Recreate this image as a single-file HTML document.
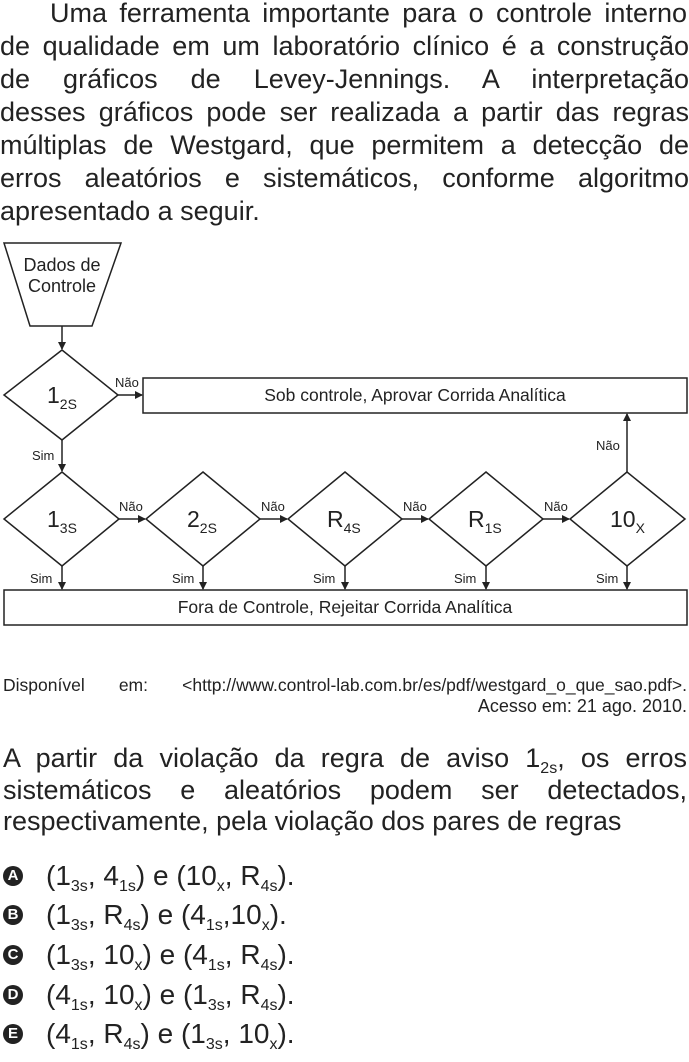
<!DOCTYPE html>
<html><head><meta charset="utf-8"><style>
body{margin:0;width:689px;height:1062px;background:#fff;position:relative;overflow:hidden;font-family:"Liberation Sans",Arial,sans-serif;color:#222}
.ln{position:absolute;left:0;width:689px;font-size:27px;line-height:33px;white-space:nowrap;text-align:justify;text-align-last:justify}
.nj{text-align:left;text-align-last:left}
sub{font-size:16px;vertical-align:-6px;line-height:0}
.opt{position:absolute;left:0;font-size:28px;line-height:30px;white-space:nowrap}
.ic{position:absolute;left:3px;width:20px;height:20px;border-radius:50%;background:#222;color:#fff;font-weight:bold;font-size:15px;line-height:20px;text-align:center}
</style></head><body>
<div class="ln" style="top:-3px;left:50px;width:637px">Uma ferramenta importante para o controle interno</div>
<div class="ln" style="top:30px">de qualidade em um laboratório clínico é a construção</div>
<div class="ln" style="top:63px">de gráficos de Levey-Jennings. A interpretação</div>
<div class="ln" style="top:96px">desses gráficos pode ser realizada a partir das regras</div>
<div class="ln" style="top:129px">múltiplas de Westgard, que permitem a detecção de</div>
<div class="ln" style="top:162px">erros aleatórios e sistemáticos, conforme algoritmo</div>
<div class="ln nj" style="top:195px">apresentado a seguir.</div>

<svg width="689" height="640" style="position:absolute;left:0;top:0" font-family="Liberation Sans,Arial,sans-serif" fill="none" stroke="#222" stroke-width="1.5">
<defs><marker id="a" markerWidth="8" markerHeight="8" refX="7" refY="4" orient="auto" markerUnits="userSpaceOnUse"><path d="M0,0 L8,4 L0,8 z" fill="#222" stroke="none"/></marker></defs>
<polygon points="4,243 121,243 92,326 30,326"/>
<g fill="#222" stroke="none" font-size="18" text-anchor="middle"><text x="62" y="271">Dados de</text><text x="62" y="292">Controle</text></g>
<line x1="62" y1="326" x2="62" y2="349" marker-end="url(#a)"/>
<polygon points="62,350 118,395 62,440 4,395"/>
<rect x="143" y="378" width="544" height="35"/>
<line x1="118" y1="395" x2="142" y2="395" marker-end="url(#a)"/>
<line x1="62" y1="440" x2="62" y2="471" marker-end="url(#a)"/>
<rect x="4" y="590" width="683" height="35"/>
<polygon points="62,472 119,519 62,566 4,519"/>
<polygon points="203,472 260,519 203,566 146,519"/>
<polygon points="345,472 402,519 345,566 288,519"/>
<polygon points="486,472 543,519 486,566 429,519"/>
<polygon points="627,472 685,519 627,566 570,519"/>
<line x1="119" y1="519" x2="145" y2="519" marker-end="url(#a)"/>
<line x1="260" y1="519" x2="287" y2="519" marker-end="url(#a)"/>
<line x1="402" y1="519" x2="428" y2="519" marker-end="url(#a)"/>
<line x1="543" y1="519" x2="569" y2="519" marker-end="url(#a)"/>
<line x1="627" y1="472" x2="627" y2="414" marker-end="url(#a)"/>
<line x1="62" y1="566" x2="62" y2="589" marker-end="url(#a)"/>
<line x1="203" y1="566" x2="203" y2="589" marker-end="url(#a)"/>
<line x1="345" y1="566" x2="345" y2="589" marker-end="url(#a)"/>
<line x1="486" y1="566" x2="486" y2="589" marker-end="url(#a)"/>
<line x1="627" y1="566" x2="627" y2="589" marker-end="url(#a)"/>
<g fill="#222" stroke="none" font-size="17.5" text-anchor="middle">
<text x="415" y="401">Sob controle, Aprovar Corrida Analítica</text>
<text x="345" y="613">Fora de Controle, Rejeitar Corrida Analítica</text>
</g>
<g fill="#222" stroke="none" font-size="13">
<text x="115" y="387">Não</text><text x="32" y="460">Sim</text>
<text x="119" y="511">Não</text><text x="261" y="511">Não</text><text x="403" y="511">Não</text><text x="544" y="511">Não</text>
<text x="596" y="450">Não</text>
<text x="30" y="583">Sim</text><text x="172" y="583">Sim</text><text x="313" y="583">Sim</text><text x="454" y="583">Sim</text><text x="596" y="583">Sim</text>
</g>
<g fill="#222" stroke="none" font-size="23">
<text x="47" y="403">1<tspan font-size="14" dy="6">2S</tspan></text>
<text x="47" y="527">1<tspan font-size="14" dy="6">3S</tspan></text>
<text x="187" y="527">2<tspan font-size="14" dy="6">2S</tspan></text>
<text x="327" y="527">R<tspan font-size="14" dy="6">4S</tspan></text>
<text x="468" y="527">R<tspan font-size="14" dy="6">1S</tspan></text>
<text x="610" y="527">10<tspan font-size="14" dy="6">X</tspan></text>
</g>
</svg>

<div style="position:absolute;left:3px;width:684px;top:675px;font-size:17.5px;white-space:nowrap;text-align:justify;text-align-last:justify">Disponível em: &lt;http://www.control-lab.com.br/es/pdf/westgard_o_que_sao.pdf&gt;.</div>
<div style="position:absolute;right:2px;top:696px;font-size:18px;white-space:nowrap">Acesso em: 21 ago. 2010.</div>

<div class="ln" style="top:742px;left:3px;width:684px">A partir da violação da regra de aviso 1<sub>2s</sub>, os erros</div>
<div class="ln" style="top:774px;left:3px;width:684px">sistemáticos e aleatórios podem ser detectados,</div>
<div class="ln nj" style="top:805px;left:3px">respectivamente, pela violação dos pares de regras</div>

<div class="ic" style="top:866px">A</div><div class="opt" style="left:46px;top:861px">(1<sub>3s</sub>, 4<sub>1s</sub>) e (10<sub>x</sub>, R<sub>4s</sub>).</div>
<div class="ic" style="top:905px">B</div><div class="opt" style="left:46px;top:900px">(1<sub>3s</sub>, R<sub>4s</sub>) e (4<sub>1s</sub>,10<sub>x</sub>).</div>
<div class="ic" style="top:945px">C</div><div class="opt" style="left:46px;top:940px">(1<sub>3s</sub>, 10<sub>x</sub>) e (4<sub>1s</sub>, R<sub>4s</sub>).</div>
<div class="ic" style="top:985px">D</div><div class="opt" style="left:46px;top:980px">(4<sub>1s</sub>, 10<sub>x</sub>) e (1<sub>3s</sub>, R<sub>4s</sub>).</div>
<div class="ic" style="top:1024px">E</div><div class="opt" style="left:46px;top:1019px">(4<sub>1s</sub>, R<sub>4s</sub>) e (1<sub>3s</sub>, 10<sub>x</sub>).</div>
</body></html>
